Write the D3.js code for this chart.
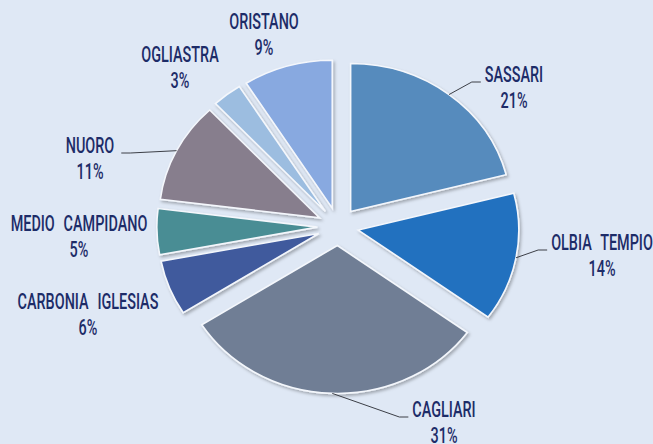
<!DOCTYPE html>
<html>
<head>
<meta charset="utf-8">
<script src="https://cdn.jsdelivr.net/npm/d3@7"></script>
<style>
  html, body { margin: 0; padding: 0; background: #dfe8f5; overflow: hidden; }
</style>
</head>
<body>
<div id="chart"></div>
<script>
// province shares (%), clockwise from 12 o'clock
const provinces = ['SASSARI', 'OLBIA TEMPIO', 'CAGLIARI', 'CARBONIA IGLESIAS',
  'MEDIO CAMPIDANO', 'NUORO', 'OGLIASTRA', 'ORISTANO'];
const shares = [21, 14, 31, 6, 5, 11, 3, 9];
const sliceColors = ['#578bbd', '#2471bf', '#6f7e95', '#3f5a9d',
  '#4a8d94', '#877e8d', '#9cbde0', '#88a9e0'];

// label layout: offset of the label (centre of first line) from the pie centre
const labelOffsets = [[176, -152], [264, 16], [106, 183], [-250, 75],
  [-259, -3], [-248, -81], [-158, -172], [-74, -205]];
const hasLeader = [true, true, true, false, false, true, false, false];

function drawPie() {
  const width = 653;
  const height = 444;
  const cx = 338, cy = 226.5;
  const radius = 148;
  const stretch = 1.085;   // the original picture is a little wider than tall
  const explode = 19;
  const textScale = 0.655;

  const svg = d3.select('#chart')
    .append('svg')
    .attr('width', width)
    .attr('height', height)
    .style('background-color', '#dfe8f5');

  // soft shadow under the slices
  const filter = svg.append('defs').append('filter')
    .attr('id', 'shadow')
    .attr('x', '-20%').attr('y', '-20%')
    .attr('width', '140%').attr('height', '140%');
  filter.append('feDropShadow')
    .attr('dx', 1.5).attr('dy', 2)
    .attr('stdDeviation', 1.6)
    .attr('flood-color', '#000')
    .attr('flood-opacity', 0.28);

  const pie = d3.pie().sort(null).value(d => d);
  const arcs = pie(shares);
  const arc = d3.arc().innerRadius(0).outerRadius(radius);

  const mid = d => (d.startAngle + d.endAngle) / 2;

  const pieG = svg.append('g')
    .attr('transform', `translate(${cx},${cy}) scale(${stretch},1)`);

  pieG.selectAll('path')
    .data(arcs)
    .enter()
    .append('path')
    .attr('d', arc)
    .attr('transform', d => `translate(${explode * Math.sin(mid(d))},${-explode * Math.cos(mid(d))})`)
    .attr('fill', (d, i) => sliceColors[i])
    .attr('stroke', '#f4f7fc')
    .attr('stroke-width', 1.6)
    .attr('vector-effect', 'non-scaling-stroke')
    .attr('filter', 'url(#shadow)');

  // labels
  const labelG = svg.append('g');
  const labels = labelG.selectAll('g')
    .data(arcs)
    .enter()
    .append('g')
    .attr('transform', (d, i) =>
      `translate(${cx + labelOffsets[i][0]},${cy + labelOffsets[i][1]}) scale(${textScale},1)`);

  labels.append('text')
    .attr('class', 'name')
    .attr('y', 7.8)
    .attr('word-spacing', 8)
    .text((d, i) => provinces[i]);
  labels.append('text')
    .attr('y', 33.3)
    .text((d, i) => shares[i] + '%');

  labels.selectAll('text')
    .attr('text-anchor', 'middle')
    .attr('font-family', 'Roboto, "DejaVu Sans", sans-serif')
    .attr('font-weight', 500)
    .attr('font-size', 22)
    .attr('fill', '#1d2c68');

  // leader lines from the middle of the outer arc to the label side
  labels.each(function (d, i) {
    if (!hasLeader[i]) return;
    const a = mid(d);
    const px = cx + stretch * (explode + radius) * Math.sin(a);
    const py = cy - (explode + radius) * Math.cos(a);
    const w = d3.select(this).select('.name').node().getComputedTextLength() * textScale;
    const lx = cx + labelOffsets[i][0];
    const ly = cy + labelOffsets[i][1] + 7.5;
    const right = lx > px;
    const ex = right ? lx - w / 2 - 4 : lx + w / 2 + 7;
    const elbow = right ? ex - 9 : ex + 9;
    svg.append('polyline')
      .attr('points', `${px},${py} ${elbow},${ly} ${ex},${ly}`)
      .attr('fill', 'none')
      .attr('stroke', '#3c3f47')
      .attr('stroke-width', 1);
  });
}

drawPie();
</script>
</body>
</html>
